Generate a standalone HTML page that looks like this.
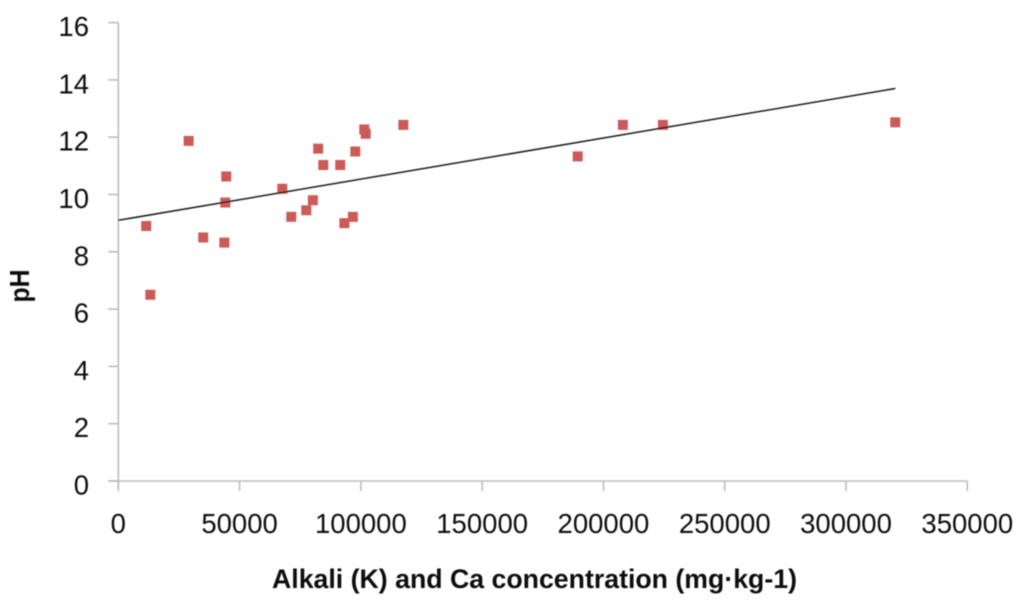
<!DOCTYPE html>
<html lang="en">
<head>
<meta charset="utf-8">
<title>pH vs Alkali and Ca concentration</title>
<style>
html,body{margin:0;padding:0;background:#fff;width:1024px;height:605px;overflow:hidden}
svg{display:block}
text{font-family:"Liberation Sans",sans-serif;fill:#111}
</style>
</head>
<body>
<svg id="chart" xmlns="http://www.w3.org/2000/svg" width="1024" height="605" viewBox="0 0 1024 605">
<defs><filter id="soft" x="-5%" y="-5%" width="110%" height="110%"><feGaussianBlur stdDeviation="0.5"/></filter></defs>
<g id="root" filter="url(#soft)"></g>
</svg>
<script>
const xTicks = [0, 50000, 100000, 150000, 200000, 250000, 300000, 350000];
const yTicks = [0, 2, 4, 6, 8, 10, 12, 14, 16];
const xValues = [11500, 13200, 29000, 35000, 43700, 44100, 44500, 67600, 71300, 77500, 80200, 82400, 84500, 91500, 93200, 96700, 97700, 101400, 102000, 117500, 189400, 208000, 224500, 320300];
const yValues = [8.9, 6.5, 11.87, 8.5, 8.32, 9.72, 10.63, 10.2, 9.22, 9.45, 9.8, 11.6, 11.03, 11.03, 9.0, 9.22, 11.5, 12.27, 12.12, 12.43, 11.33, 12.43, 12.43, 12.52];
const trendX = [0, 320300];
const trendY = [9.1, 13.7];

const NS = 'http://www.w3.org/2000/svg';
const root = document.getElementById('root');
const sx = v => 118.3 + v * (849 / 350000);
const sy = v => 481 - v * (458.4 / 16);

function make(tag, attrs, parent) {
  const el = document.createElementNS(NS, tag);
  for (const k in attrs) el.setAttribute(k, attrs[k]);
  (parent || root).appendChild(el);
  return el;
}

const axisStyle = {stroke: '#bdbdbd', 'stroke-width': 1.6, fill: 'none'};

const xAxis = make('line', Object.assign({x1: sx(0) - 10, x2: sx(350000), y1: sy(0), y2: sy(0)}, axisStyle));



const yAxis = make('line', Object.assign({x1: sx(0), x2: sx(0), y1: sy(0) + 10, y2: sy(16)}, axisStyle));



xTicks.forEach(t => {
  const tick = make('line', Object.assign({x1: sx(t), x2: sx(t), y1: sy(0), y2: sy(0) + 10}, axisStyle));
  
  
  const label = make('text', {x: sx(t), y: 533, 'text-anchor': 'middle', 'font-size': 27.5});
  label.textContent = String(t);
  
  
});

yTicks.forEach(t => {
  const tick = make('line', Object.assign({x1: sx(0) - 10, x2: sx(0), y1: sy(t), y2: sy(t)}, axisStyle));
  
  
  const label = make('text', {x: 89, y: sy(t) + 13.5, 'text-anchor': 'end', 'font-size': 27.5});
  label.textContent = String(t);
  
  
});

xValues.forEach((v, i) => {
  const s = 10;
  const point = make('rect', {x: sx(v) - s / 2, y: sy(yValues[i]) - s / 2, width: s, height: s, fill: '#cc5a58'});
  
  
});

const trend = make('line', {x1: sx(trendX[0]), y1: sy(trendY[0]), x2: sx(trendX[1]), y2: sy(trendY[1]), stroke: '#1c1c1c', 'stroke-width': 1.5});



const xTitle = make('text', {x: 272, y: 588, 'font-size': 27, 'font-weight': 'bold', textLength: 525, lengthAdjust: 'spacingAndGlyphs'});
xTitle.textContent = 'Alkali (K) and Ca concentration (mg·kg-1)';



const yTitle = make('text', {x: 0, y: 0, 'font-size': 28, 'font-weight': 'bold', 'text-anchor': 'middle', transform: 'translate(29 286) rotate(-90)', textLength: 33, lengthAdjust: 'spacingAndGlyphs'});
yTitle.textContent = 'pH';


</script>
</body>
</html>
